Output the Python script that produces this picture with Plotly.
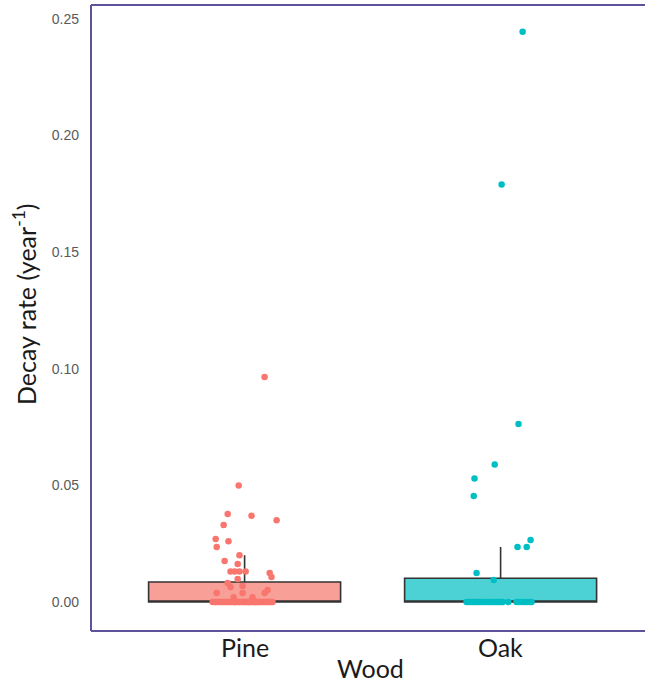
import numpy as np
import plotly.graph_objects as go

# Wood types on the x axis
wood_types = ["Pine", "Oak"]

# Decay rates (year^-1) per log, non-zero values followed by the zero-decay logs
pine_rate = [0.0965, 0.050, 0.0377, 0.037, 0.035, 0.033, 0.027, 0.026, 0.0236,
             0.020, 0.0176, 0.0163, 0.0131, 0.0131, 0.0131, 0.0131, 0.0124,
             0.0107, 0.0099, 0.0081, 0.0069, 0.0064, 0.0051, 0.0039, 0.0039,
             0.0039, 0.002, 0.002] + [0.0] * 48
oak_rate = [0.2445, 0.179, 0.0763, 0.059, 0.053, 0.0455, 0.0266, 0.0236,
            0.0236, 0.0124, 0.0094] + [0.0] * 29

# Horizontal jitter of each point (in category units), same order as the rates
pine_jitter = [0.078, -0.023, -0.066, 0.027, 0.125, -0.082, -0.113, -0.063,
               -0.109, -0.020, -0.078, -0.027, -0.055, -0.039, -0.020, 0.004,
               0.098, 0.105, -0.027, -0.066, -0.008, -0.055, 0.090, -0.109,
               0.078, -0.008, 0.031, -0.043,
               -0.125, -0.118, -0.109, -0.101, -0.097, -0.090, -0.084, -0.079,
               -0.071, -0.066, -0.060, -0.055, -0.049, -0.043, -0.040, -0.034,
               -0.029, -0.023, -0.019, -0.012, -0.008, -0.003, 0.002, 0.006,
               0.011, 0.015, 0.021, 0.026, 0.030, 0.036, 0.041, 0.045, 0.052,
               0.057, 0.061, 0.067, 0.072, 0.077, 0.083, 0.088, 0.093, 0.098,
               0.104, 0.109, -0.113, -0.038, 0.047, 0.019]
oak_jitter = [0.086, 0.004, 0.070, -0.023, -0.102, -0.105, 0.117, 0.066, 0.102,
              -0.094, -0.027,
              -0.133, -0.126, -0.119, -0.111, -0.104, -0.098, -0.090, -0.083,
              -0.077, -0.069, -0.062, -0.055, -0.047, -0.041, -0.033, -0.026,
              -0.018, -0.011, -0.004, 0.003, 0.008, 0.030, 0.062, 0.071, 0.083,
              0.094, 0.102, 0.113, 0.121]

y_ticks = [0.00, 0.05, 0.10, 0.15, 0.20, 0.25]

point_colors = ["#F8766D", "#00BFC4"]
box_fills = ["#F89F98", "#4CD2D5"]


def box_stats(values):
    v = np.asarray(values, dtype=float)
    q1, med, q3 = np.percentile(v, [25, 50, 75])
    iqr = q3 - q1
    upper = v[v <= q3 + 1.5 * iqr].max()
    lower = v[v >= q1 - 1.5 * iqr].min()
    return q1, med, q3, lower, upper


fig = go.Figure()

groups = [(pine_rate, pine_jitter), (oak_rate, oak_jitter)]
for i, (rates, jit) in enumerate(groups):
    q1, med, q3, lo, hi = box_stats(rates)
    fig.add_trace(go.Box(
        x=[i], q1=[q1], median=[med], q3=[q3],
        lowerfence=[lo], upperfence=[hi],
        width=0.75, whiskerwidth=0, boxpoints=False,
        fillcolor=box_fills[i],
        line=dict(color="#333333", width=1.6),
        name=wood_types[i], showlegend=False, hoverinfo="skip",
    ))

for i, (rates, jit) in enumerate(groups):
    fig.add_trace(go.Scatter(
        x=[i + j for j in jit], y=rates, mode="markers",
        marker=dict(color=point_colors[i], size=6.5, line=dict(width=0)),
        name=wood_types[i], showlegend=False,
    ))

frame = "#5F529C"
title_font = dict(family="Lato", size=25, color="#1a1a1a")

# Panel border: left, top and bottom edges; the right edge runs off the page
frame_shapes = [
    dict(type="line", xref="paper", yref="paper", x0=0, x1=0, y0=0, y1=1,
         line=dict(color=frame, width=2)),
    dict(type="line", xref="paper", yref="paper", x0=0, x1=1, y0=1, y1=1,
         line=dict(color=frame, width=2)),
    dict(type="line", xref="paper", yref="paper", x0=0, x1=1, y0=0, y1=0,
         line=dict(color=frame, width=2)),
]

category_labels = [
    dict(text=name, xref="x", yref="paper", x=i, y=(631 - 647) / 626,
         xanchor="center", yanchor="middle", showarrow=False, font=title_font)
    for i, name in enumerate(wood_types)
]

fig.update_layout(
    width=645, height=684,
    margin=dict(l=91, r=0, t=5, b=53),
    paper_bgcolor="white", plot_bgcolor="white",
    xaxis=dict(
        range=[-0.6, -0.6 + 554 / 256],
        showticklabels=False, showgrid=False, zeroline=False,
        showline=False, ticks="",
    ),
    yaxis=dict(
        range=[-0.01244, 0.256],
        tickvals=y_ticks, ticktext=[f"{t:.2f}" for t in y_ticks],
        showgrid=False, zeroline=False, showline=False,
        ticks="", ticklabelstandoff=11,
        tickfont=dict(family="Liberation Sans", size=14, color="#5a5a5a"),
    ),
    shapes=frame_shapes,
    annotations=category_labels + [
        dict(text="Wood", xref="paper", yref="paper",
             x=(370 - 91) / 554, y=(631 - 668) / 626,
             xanchor="center", yanchor="middle", showarrow=False,
             font=title_font),
        dict(text="Decay rate (year<sup>-1</sup>)", xref="paper", yref="paper",
             x=(24 - 91) / 554, y=(631 - 305) / 626, textangle=-90,
             xanchor="center", yanchor="middle", showarrow=False,
             font=title_font),
    ],
)

fig.write_html("out.html")
